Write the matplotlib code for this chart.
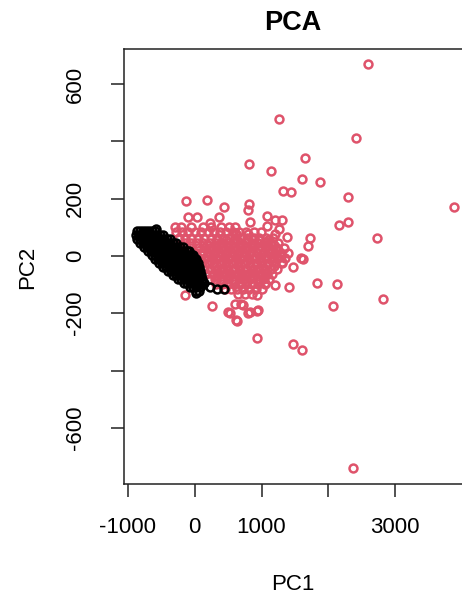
import numpy as np
import matplotlib
matplotlib.use("Agg")
import matplotlib.pyplot as plt

plt.rcParams['font.family'] = ['Liberation Sans', 'DejaVu Sans']

RED = '#DF536B'

# scattered red points (PC1, PC2)
red_x = [2590, 1255, 2410, 1655, 810, 1140, 1610, 1875, 1325, 1440, 2300, -125, 190,
         3875, 2300, 2165, 2725, 1725, 1700, 1615, 1835, 2125, 2825, 2075, 1600, 635,
         925, 1475, 2365, 435, 810, 795, -100, 35, 365, 1075, 1200, 1300, 835, 225,
         1075, 1265, 1375, 625, 800, 1060, 1210, 1410, -140, 255, 525, 625, 800, 925,
         700, 600, 600, 1200, 1225, 1590, 675, 825, 725, 950, 500, 825, 925, 1050,
         1200, 1475, 1300]
red_y = [668, 476, 410, 342, 321, 295, 270, 258, 228, 223, 204, 190, 196,
         170, 118, 108, 62, 62, 34, -10, -95, -99, -150, -176, -327, -228,
         -286, -306, -741, 170, 182, 159, 135, 135, 135, 140, 124, 124, 118, 114,
         103, 93, 65, 77, 77, 50, 25, -110, -136, -175, -198, -222, -198, -193,
         -168, -168, 79, 77, 21, -8, -96, -78, -172, -189, -195, -195, -136, -96,
         -101, -37, -20]

# dense red core, by rows of PC2
red_core_y = [100, 82, 64, 46, 28, 10, -8, -26, -44, -62, -80, -98, -116, -134,
              55, 37, 19, 1, -17, -35, -53, -71, -89]
red_core_x = [
    [-300, -210, -60, 130, 250, 395, 520, 610],
    [-285, -190, -100, 10, 95, 200, 290, 380, 470, 575, 660, 765, 880, 985],
    [-240, -140, -50, 55, 145, 240, 330, 425, 510, 610, 700, 790, 885, 960, 1060, 1170],
    [-150, -55, 40, 130, 225, 315, 405, 500, 585, 680, 765, 860, 950, 1045, 1135, 1240],
    [-50, 45, 135, 225, 320, 410, 495, 590, 680, 770, 860, 950, 1045, 1130, 1225, 1330],
    [20, 110, 200, 290, 385, 470, 565, 650, 745, 835, 925, 1015, 1110, 1195, 1295, 1400],
    [70, 160, 255, 340, 435, 520, 615, 700, 795, 880, 975, 1060, 1150, 1250, 1345],
    [110, 200, 290, 385, 470, 560, 650, 740, 830, 920, 1010, 1100, 1195, 1300],
    [145, 235, 330, 415, 505, 595, 685, 775, 865, 950, 1045, 1140, 1235],
    [175, 270, 360, 450, 540, 630, 715, 805, 895, 985, 1080, 1160],
    [210, 300, 390, 480, 570, 660, 745, 835, 925, 1020, 1110],
    [320, 410, 500, 590, 680, 770, 860, 950, 1045],
    [450, 545, 640, 730, 820, 915, 1000],
    [650, 750, 860],
    [330, 470, 640, 800, 960, 1100],
    [180, 360, 540, 720, 900, 1080, 1180],
    [250, 430, 610, 790, 970, 1150, 1250],
    [200, 380, 560, 740, 920, 1100, 1290],
    [250, 430, 610, 790, 970, 1150],
    [290, 470, 650, 830, 1010, 1190],
    [320, 500, 680, 860, 1040],
    [330, 510, 690, 870, 1050],
    [430, 610, 790, 970],
]

# dense black band, by rows of PC2
black_row_y = [88, 74, 60, 46, 32, 18, 4, -10, -25, -39, -53, -67, -81, -95, -109, -123]
black_row_x = [
    [-860, -815, -770, -725, -680, -635, -590],
    [-885, -840, -795, -750, -705, -660, -615, -570, -525, -480],
    [-870, -825, -780, -735, -690, -645, -600, -555, -510, -465, -420, -375],
    [-820, -775, -730, -685, -640, -595, -550, -505, -460, -415, -370, -325, -280],
    [-760, -715, -670, -625, -580, -535, -490, -445, -400, -355, -310, -265, -220, -170],
    [-700, -655, -610, -565, -520, -475, -430, -385, -340, -295, -250, -205, -160, -115, -80],
    [-640, -595, -550, -505, -460, -415, -370, -325, -280, -235, -190, -145, -100, -55, -20],
    [-590, -545, -500, -455, -410, -365, -320, -275, -230, -185, -140, -95, -50, -5, 25],
    [-530, -485, -440, -395, -350, -305, -260, -215, -170, -125, -80, -35, 10, 50],
    [-470, -425, -380, -335, -290, -245, -200, -155, -110, -65, -20, 25, 65],
    [-395, -350, -305, -260, -215, -170, -125, -80, -35, 10, 50, 80],
    [-320, -275, -230, -185, -140, -95, -50, -5, 40, 90],
    [-245, -200, -155, -110, -65, -20, 25, 70, 105],
    [-155, -110, -65, -20, 25, 65, 105],
    [-65, -20, 25, 75],
    [15, 60],
]
black_x = [-575, 435, 225, 90, 25, 135, 340]
black_y = [94, -117, -110, -105, -128, -96, -115]

xticks = [-1000, 0, 1000, 2000, 3000]
xticklabels = ['-1000', '0', '1000', '', '3000']
yticks = [-600, -400, -200, 0, 200, 400, 600]
yticklabels = ['-600', '', '-200', '0', '200', '', '600']

rx = list(red_x)
ry = list(red_y)
for yv, xs in zip(red_core_y, red_core_x):
    rx += xs
    ry += [yv] * len(xs)
bx = list(black_x)
by = list(black_y)
for yv, xs in zip(black_row_y, black_row_x):
    bx += xs
    by += [yv] * len(xs)

W, H = 462, 597
fig = plt.figure(figsize=(W / 100, H / 100), dpi=100)
ax = fig.add_axes([124 / W, (H - 484) / H, 338 / W, 435 / H])

ax.plot(rx, ry, 'o', mfc='none', mec=RED, ms=5.7, mew=1.8, ls='none')
ax.plot(bx, by, 'o', mfc='none', mec='black', ms=5.7, mew=1.8, ls='none')

ax.set_xlim(-1058, 4000)
ax.set_ylim(-796, 722)
ax.set_xticks(xticks)
ax.set_xticklabels(xticklabels)
ax.set_yticks(yticks)
ax.set_yticklabels(yticklabels, rotation=90, va='center')
ax.tick_params(length=9.5, width=1.1, labelsize=16, color='#222222')
ax.tick_params(axis='x', pad=14)
ax.tick_params(axis='y', pad=18)
for s in ['left', 'bottom', 'top']:
    ax.spines[s].set_linewidth(1.1)
    ax.spines[s].set_color('#222222')
ax.spines['right'].set_visible(False)

fig.text(293 / W, 1 - 23 / H, 'PCA', ha='center', va='center', fontsize=19.5, fontweight='bold')
fig.text(293 / W, 1 - 584 / H, 'PC1', ha='center', va='center', fontsize=16)
fig.text(28 / W, 1 - 267 / H, 'PC2', ha='center', va='center', fontsize=16, rotation=90)

fig.savefig('out.png', dpi=100)
